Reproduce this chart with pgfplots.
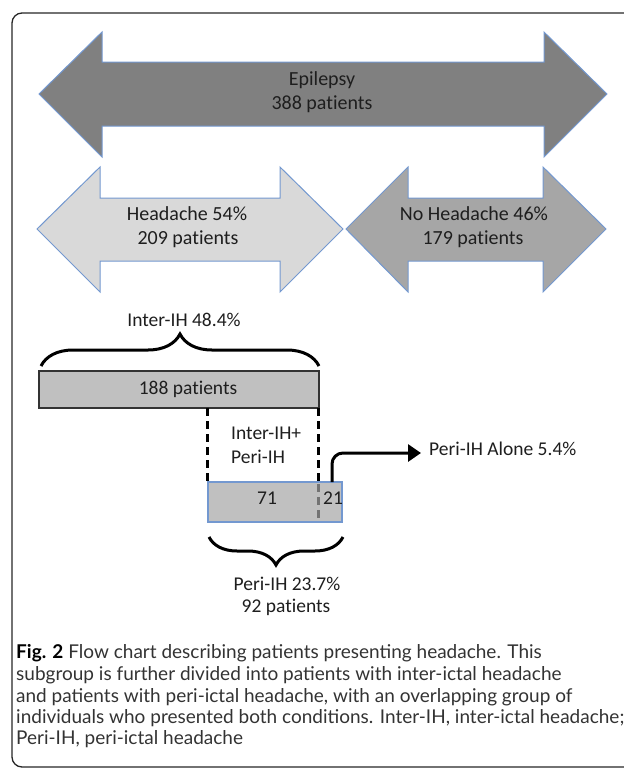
\documentclass[border=0pt]{standalone}
\usepackage{pgfplots}
\pgfplotsset{compat=1.18}
\usepackage{fontspec}
\setmainfont{Carlito}[Ligatures=NoCommon]
\newfontfamily\capfont{Lato}
\usetikzlibrary{decorations.pathreplacing, arrows.meta}
\definecolor{outl}{HTML}{7398D0}
\definecolor{darkg}{HTML}{808080}
\definecolor{lightg}{HTML}{D9D9D9}
\definecolor{midg}{HTML}{A6A6A6}
\definecolor{boxg}{HTML}{C0C0C0}
\definecolor{txt}{HTML}{1E1E1E}
\definecolor{captxt}{HTML}{333333}
\tikzset{
  lbl/.style={font=\fontsize{20}{24}\selectfont, text=txt, inner sep=0pt, text height=0.72em, text depth=0.2em},
  sml/.style={font=\fontsize{19.5}{23}\selectfont, text=txt, inner sep=0pt, text height=0.72em, text depth=0.2em},
  capline/.style={font=\capfont\fontsize{19}{22}\selectfont, text=captxt, inner sep=0pt, anchor=west, text height=0.72em, text depth=0.2em},
}
\begin{document}
\begin{tikzpicture}
\begin{axis}[
  width=624pt, height=772pt, scale only axis,
  xmin=0, xmax=624, ymin=0, ymax=772, y dir=reverse,
  axis lines=none, clip=false,
]
\coordinate (bl) at (axis cs:0,772);
\coordinate (tr) at (axis cs:624,0);
% frame
\draw[line width=1.3pt, black!85, rounded corners=10pt] (axis cs:650,13) -- (axis cs:12,13) -- (axis cs:12,767) -- (axis cs:650,767);
% Epilepsy arrow
\addplot[draw=outl, line width=1pt, fill=darkg] coordinates {(39,94) (102,32) (102,62) (544,62) (544,32) (607,94) (544,157) (544,126) (102,126) (102,157)} -- cycle;
% Headache arrow
\addplot[draw=outl, line width=1pt, fill=lightg] coordinates {(37,229) (100,167) (100,198) (280,198) (280,167) (343,229) (280,292) (280,261) (100,261) (100,292)} -- cycle;
% No Headache arrow
\addplot[draw=outl, line width=1pt, fill=midg] coordinates {(346,229) (408,167) (408,198) (543,198) (543,167) (606,229) (543,292) (543,261) (408,261) (408,292)} -- cycle;
% Inter-IH box (188 patients)
\addplot[draw=black!80, line width=1.3pt, fill=boxg] coordinates {(39,371) (319,371) (319,408) (39,408)} -- cycle;
% dashed lines
\addplot[black, line width=3pt, dash pattern=on 8pt off 5pt] coordinates {(207,408) (207,482)};
\addplot[black, line width=3pt, dash pattern=on 8pt off 5pt] coordinates {(318,408) (318,482)};
% Peri-IH box (71 + 21)
\addplot[draw=outl, line width=1.3pt, fill=boxg] coordinates {(208,482) (342,482) (342,522) (208,522)} -- cycle;
\addplot[black!55, line width=3pt, dash pattern=on 8pt off 5pt] coordinates {(318,484) (318,518)};
% braces
\draw[black, line width=3pt, decorate, decoration={brace, amplitude=32pt, aspect=0.5}] (axis cs:41,366) -- (axis cs:319,366);
\draw[black, line width=3pt, decorate, decoration={brace, amplitude=28pt, aspect=0.5}] (axis cs:343,537) -- (axis cs:209,537);
% arrow to Peri-IH alone
\draw[black, line width=3pt, rounded corners=11pt, -{Triangle[length=13pt, width=17pt]}] (axis cs:332,482) |- (axis cs:421,453);
% texts
\node[lbl] at (axis cs:322,83) {Epilepsy};
\node[lbl] at (axis cs:322,107) {388 patients};
\node[lbl] at (axis cs:187,218) {Headache 54\%};
\node[lbl] at (axis cs:188,242) {209 patients};
\node[lbl] at (axis cs:474,218) {No Headache 46\%};
\node[lbl] at (axis cs:473,242) {179 patients};
\node[sml] at (axis cs:184,324) {Inter-IH 48.4\%};
\node[sml] at (axis cs:188,392) {188 patients};
\node[sml, anchor=west] at (axis cs:231,437) {Inter-IH+};
\node[sml, anchor=west] at (axis cs:231,461) {Peri-IH};
\node[sml] at (axis cs:267,502) {71};
\node[sml] at (axis cs:333,502) {21};
\node[sml, anchor=west] at (axis cs:429,453) {Peri-IH Alone 5.4\%};
\node[sml] at (axis cs:287,588) {Peri-IH 23.7\%};
\node[sml] at (axis cs:286,610) {92 patients};
% caption
\node[capline] at (axis cs:16,656) {\textbf{\color{black}Fig. 2} Flow chart describing patients presenting headache. This};
\node[capline] at (axis cs:16,678) {subgroup is further divided into patients with inter-ictal headache};
\node[capline] at (axis cs:16,700) {and patients with peri-ictal headache, with an overlapping group of};
\node[capline] at (axis cs:16,721) {individuals who presented both conditions. Inter-IH, inter-ictal headache;};
\node[capline] at (axis cs:16,742) {Peri-IH, peri-ictal headache};
\end{axis}
\pgfresetboundingbox
\useasboundingbox (bl) rectangle (tr);
\end{tikzpicture}
\end{document}
